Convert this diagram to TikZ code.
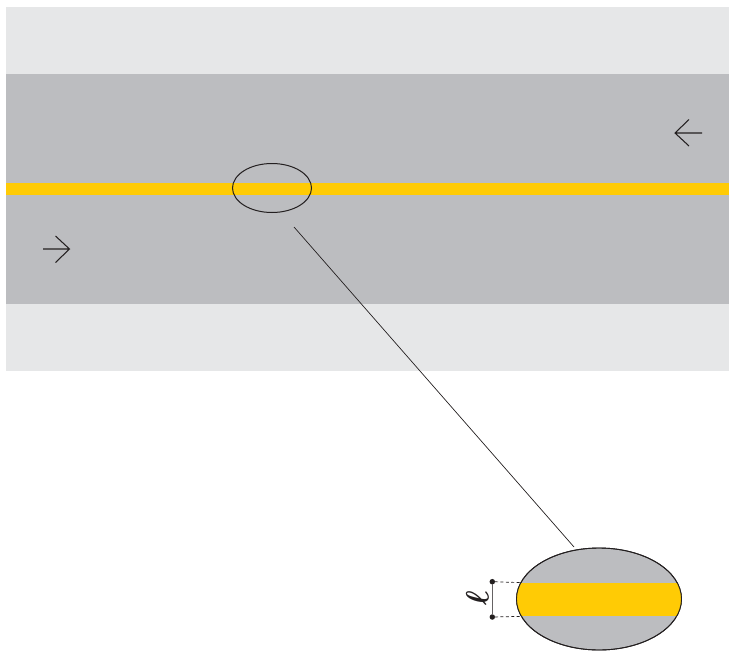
\documentclass[tikz,border=0pt]{standalone}
\usepackage{amssymb}
\usepackage{graphicx}
\usetikzlibrary{shapes.geometric}
\definecolor{shoulder}{HTML}{E6E7E8}
\definecolor{road}{HTML}{BCBDC0}
\definecolor{stripe}{HTML}{FFCB05}
\definecolor{ink}{HTML}{231F20}
\tikzset{
  x=1pt,y=-1pt,
  band/.style={draw=none,minimum width=723pt,inner sep=0pt,outer sep=0pt,anchor=north west},
  lens/.style={ellipse,draw=ink,line width=0.9pt,inner sep=0pt,outer sep=0pt},
  thin line/.style={draw=ink,line width=0.7pt},
  dirarrow/.style={draw=ink,line width=1.05pt},
  dot/.style={circle,fill=ink,minimum size=5.5pt,inner sep=0pt,outer sep=0pt},
  leader/.style={draw=ink,line width=0.7pt,dash pattern=on 3pt off 2.4pt},
}
\begin{document}
\begin{tikzpicture}
\useasboundingbox (0,0) rectangle (729,651);
\node[band,fill=shoulder,minimum height=364pt] (shoulders) at (6,7) {};
\node[band,fill=road,minimum height=230pt] (roadway) at (6,74) {};
\node[band,fill=stripe,minimum height=12pt] (line) at (6,183) {};
% small lens
\node[lens,line width=1pt,minimum width=79pt,minimum height=49pt] (small) at (272,188) {};
% big lens
\node[lens,fill=road,minimum width=165pt,minimum height=102pt] (big) at (599,599) {};
\begin{scope}
  \clip (599,599) ellipse [x radius=82.5,y radius=51];
  \fill[stripe] (510,583.3) rectangle (690,616);
\end{scope}
\node[lens,minimum width=165pt,minimum height=102pt] (bigoutline) at (599,599) {};
% connector
\coordinate (from) at (294,227);
\coordinate (to) at (574,547);
\draw[thin line] (from) -- (to);
% arrows
\coordinate (a1) at (43,249); \coordinate (a2) at (69.5,249);
\coordinate (a3) at (55.5,236); \coordinate (a4) at (55.5,262.5);
\draw[dirarrow] (a1) -- (a2) (a3) -- (a2) -- (a4);
\coordinate (b1) at (702,133); \coordinate (b2) at (675,133);
\coordinate (b3) at (689,119.5); \coordinate (b4) at (689,146);
\draw[dirarrow] (b1) -- (b2) (b3) -- (b2) -- (b4);
% dimension
\node[dot] (d1) at (492.3,581.7) {};
\node[dot] (d2) at (492.3,617) {};
\draw[draw=ink!70,line width=1pt] (d1) -- (d2);
\coordinate (e1) at (521,582.6);
\coordinate (e2) at (521,616.4);
\draw[leader] (d1) -- (e1);
\draw[leader] (d2) -- (e2);
\node[rotate=90,inner sep=0pt,text=ink,font=\fontsize{44}{44}\selectfont\boldmath] (ell) at (477.5,598.5) {\scalebox{1.25}[1.3]{$\ell$}};
\end{tikzpicture}
\end{document}
